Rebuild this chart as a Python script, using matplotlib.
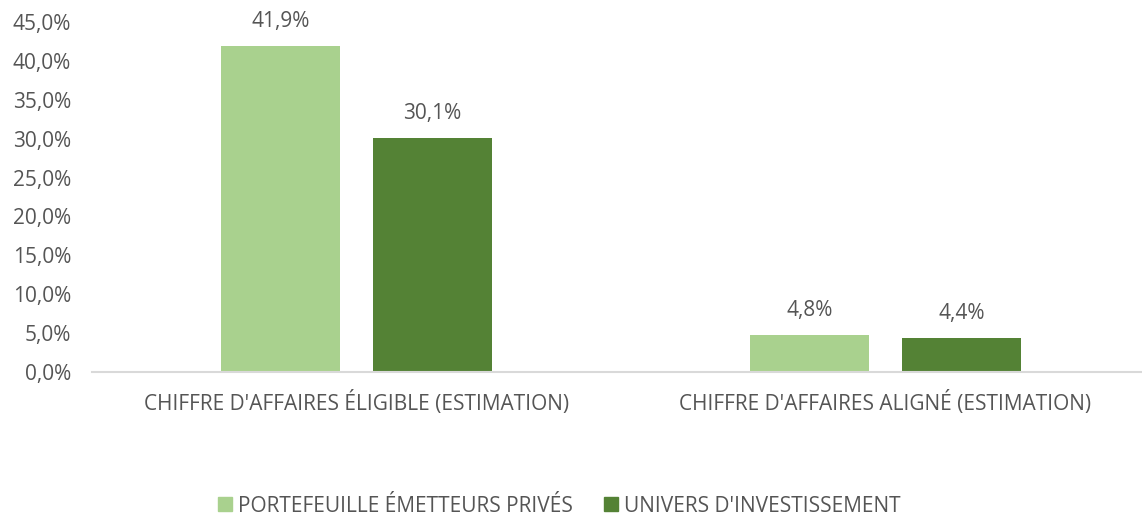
import matplotlib.pyplot as plt
from matplotlib.patches import Patch
import numpy as np

# Données (en %)
categories = ["CHIFFRE D'AFFAIRES ÉLIGIBLE (ESTIMATION)", "CHIFFRE D'AFFAIRES ALIGNÉ (ESTIMATION)"]
series_names = ["PORTEFEUILLE ÉMETTEURS PRIVÉS", "UNIVERS D'INVESTISSEMENT"]
portefeuille = [41.9, 4.8]
univers = [30.1, 4.4]
yticks = [0, 5, 10, 15, 20, 25, 30, 35, 40, 45]

light_green = "#A9D18E"
dark_green = "#548235"
text_color = "#555555"

plt.rcParams['font.family'] = ['Open Sans', 'DejaVu Sans']
fs = 15


def fr_pct(v, dec=1):
    return f"{v:.{dec}f}%".replace(".", ",")


fig = plt.figure(figsize=(11.42, 5.18), dpi=100)
ax = fig.add_axes([0.0806, 0.2819, 0.9194, 0.6756])

x = np.arange(len(categories))
w = 0.225
off = 0.144
b1 = ax.bar(x - off, portefeuille, w, color=light_green)
b2 = ax.bar(x + off, univers, w, color=dark_green)

for bars in (b1, b2):
    ax.bar_label(bars, labels=[fr_pct(v) for v in bars.datavalues],
                 padding=10, fontsize=fs, color=text_color)

ax.set_xlim(-0.5, 1.485)
ax.set_ylim(0, 45)
ax.set_yticks(yticks)
ax.set_yticklabels([fr_pct(v) for v in yticks])
ax.set_xticks(x)
ax.set_xticklabels(categories)
ax.tick_params(axis='y', length=0, pad=15, labelsize=fs, labelcolor=text_color)
ax.tick_params(axis='x', length=0, pad=14, labelsize=fs, labelcolor=text_color)

for s in ("top", "right", "left"):
    ax.spines[s].set_visible(False)
ax.spines["bottom"].set_color("#D9D9D9")
ax.spines["bottom"].set_linewidth(1.5)

handles = [Patch(color=light_green, label=series_names[0]),
           Patch(color=dark_green, label=series_names[1])]
fig.legend(handles=handles, loc="center", bbox_to_anchor=(0.49, 0.023),
           ncol=2, frameon=False, fontsize=fs, labelcolor=text_color,
           handlelength=0.65, handleheight=0.65, handletextpad=0.3,
           columnspacing=1.5)

fig.savefig("out.png", dpi=100)
